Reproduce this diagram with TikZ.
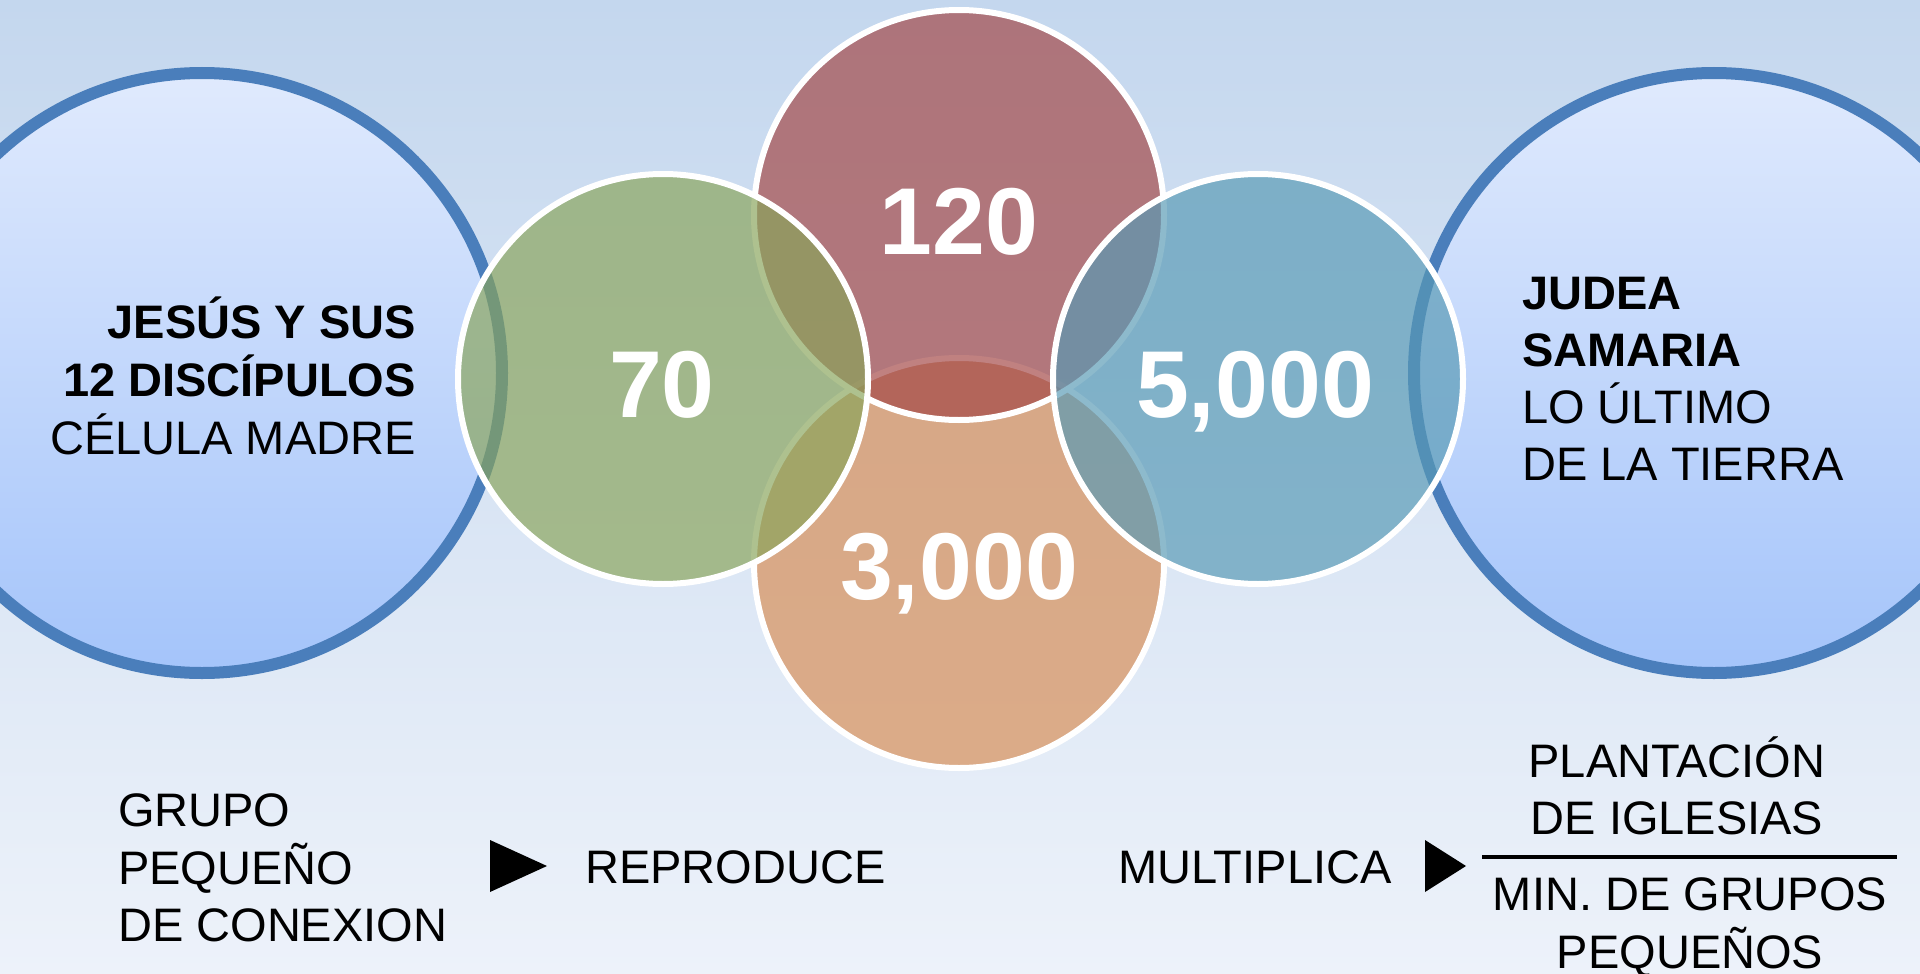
\documentclass[tikz,border=0pt]{standalone}
\usepackage{fontspec}
\setmainfont{Liberation Sans}
\usepackage{tikz}
\usetikzlibrary{positioning,backgrounds,calc}
\definecolor{bgtop}{RGB}{196,215,238}
\definecolor{bgbot}{RGB}{237,242,250}
\definecolor{ringblue}{RGB}{74,126,187}
\definecolor{celltop}{RGB}{224,234,253}
\definecolor{cellbot}{RGB}{164,196,250}
\definecolor{vgreen}{RGB}{137,164,90}
\definecolor{vred}{RGB}{163,70,69}
\definecolor{vorange}{RGB}{216,141,84}
\definecolor{vblue}{RGB}{88,154,181}
\newcommand{\txtsize}{\fontsize{47}{57}\selectfont}
\newcommand{\numsize}{\fontsize{95}{110}\selectfont\bfseries}

\begin{document}
\begin{tikzpicture}[x=1pt, y=-1pt,
 bigcell/.style={circle, draw=ringblue, line width=12pt, top color=celltop,
   bottom color=cellbot, minimum size=600pt, inner sep=0pt},
 venn/.style={circle, draw=white, line width=6pt, fill opacity=0.68,
   draw opacity=1, minimum size=410pt, inner sep=0pt},
 num/.style={text=white, font=\numsize, inner sep=0pt},
 lbl/.style={font=\txtsize, inner sep=0pt},
 tri/.style={fill=black}]
\useasboundingbox (0,0) rectangle (1920,974);
\clip (0,0) rectangle (1920,974);
\shade[top color=bgtop, bottom color=bgbot] (0,0) rectangle (1920,974);

% outer cells
\node[bigcell] (madre) at (202,373) {};
\node[bigcell] (tierra) at (1714,373) {};
\node[lbl, anchor=base east] (madreTxt) at (416,338) {\begin{tabular}[t]{@{}r@{}}
  \bfseries JESÚS Y SUS\\ \bfseries 12 DISCÍPULOS\\ CÉLULA MADRE\end{tabular}};
\node[lbl, anchor=base west] (tierraTxt) at (1522,309) {\begin{tabular}[t]{@{}l@{}}
  \bfseries JUDEA\\ \bfseries SAMARIA\\ LO ÚLTIMO\\ DE LA TIERRA\end{tabular}};

% venn circles
\node[venn, fill=vorange] (c3000) at (959,563) {};
\node[venn, fill=vred] (c120) at (959,215) {};
\node[venn, fill=vgreen] (c70) at (663,379) {};
\node[venn, fill=vblue] (c5000) at (1258,379) {};
\node[num, anchor=base] (n70) at (662,417) {70};
\node[num, anchor=base] (n120) at (959,254) {120};
\node[num, anchor=base] (n3000) at (959,599) {3,000};
\node[num, anchor=base] (n5000) at (1255,417) {5,000};

% bottom row
\node[lbl, anchor=base west] (grupo) at (118,826) {\begin{tabular}[t]{@{}l@{}}
  GRUPO\\ PEQUEÑO\\ DE CONEXION\end{tabular}};
\fill[tri] (490,840) -- (547,866) -- (490,892) -- cycle;
\node[lbl, anchor=base west] (repro) at (585,883) {REPRODUCE};
\node[lbl, anchor=base west] (multi) at (1118,883) {MULTIPLICA};
\fill[tri] (1425,840) -- (1466,866) -- (1425,892) -- cycle;
\node[lbl, anchor=base] (plant) at (1677,777) {\begin{tabular}[t]{@{}c@{}}
  PLANTACIÓN\\ DE IGLESIAS\end{tabular}};
\node[lbl, anchor=base] (minis) at (1690,910) {\begin{tabular}[t]{@{}c@{}}
  MIN. DE GRUPOS\\ PEQUEÑOS\end{tabular}};
\coordinate (fracL) at (1482,857);
\coordinate (fracR) at (1897,857);
\draw[line width=4pt] (fracL) -- (fracR);
\end{tikzpicture}
\end{document}
